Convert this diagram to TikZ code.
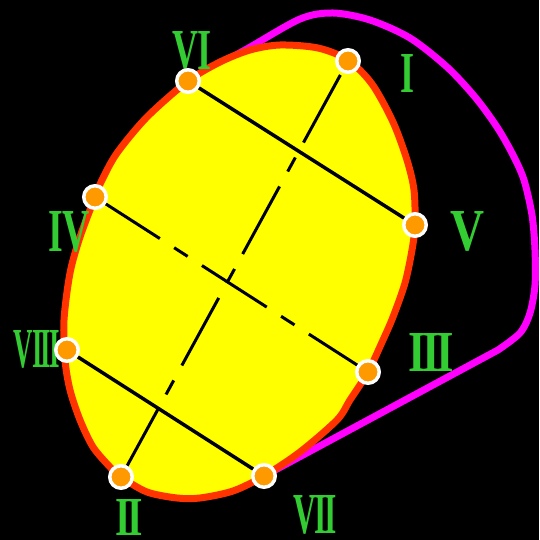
\documentclass[tikz,border=0pt]{standalone}
\usepackage{fontspec}
\setmainfont{Liberation Serif}
\definecolor{blobred}{RGB}{255,51,0}
\definecolor{blobyellow}{RGB}{255,255,0}
\definecolor{dotorange}{RGB}{255,153,0}
\definecolor{labgreen}{RGB}{51,204,51}
\definecolor{curvemag}{RGB}{255,0,255}
\pgfdeclarelayer{background}
\pgfdeclarelayer{mid}
\pgfdeclarelayer{lab}
\pgfsetlayers{background,mid,lab,main}
\tikzset{
  dotnode/.style={circle,inner sep=0pt,minimum size=22.5pt,line width=3.5pt,draw=white,fill=dotorange},
  labnode/.style={inner sep=0pt,text=labgreen},
  solidchord/.style={line width=3.5pt,black},
  dashchord/.style={line width=3pt,black,dash pattern=on 77pt off 17pt on 16pt off 17pt},
  blobline/.style={line width=7pt,draw=blobred,fill=blobyellow},
  magline/.style={line width=7pt,draw=curvemag}
}
\begin{document}
\begin{tikzpicture}[x=1pt,y=-1pt]
\useasboundingbox (0,0) rectangle (539,540);
% points
\node[dotnode] (I) at (348,61) {};
\node[dotnode] (VI) at (188,81) {};
\node[dotnode] (V) at (415,225) {};
\node[dotnode] (IV) at (95,197) {};
\node[dotnode] (VIII) at (67,350) {};
\node[dotnode] (III) at (368,372) {};
\node[dotnode] (II) at (121,477) {};
\node[dotnode] (VII) at (264,476) {};
\begin{pgfonlayer}{background}
\fill[black] (0,0) rectangle (539,540);
\draw[magline,line join=round] plot[smooth,tension=0.5] coordinates {(VI.center) (245,50) (300,19) (333,13) (370,20) (410,38) (447,67) (475,97) (497,127) (513,155) (524,180) (532,215) (535,250) (535,285) (530,313) (520,333) (498,350)} -- (VII.center);
\draw[blobline] plot[smooth cycle,tension=0.5] coordinates {(280,45) (318,48) (348,60) (372,84) (393,122) (407,160) (414,190) (415,225) (412,250) (405,283) (393,317) (383,340) (368,372) (350,400) (337,420) (300,452) (264,476) (233,491) (200,498) (177,498) (147,492) (121,477) (110,467) (93,447) (80,420) (70,390) (65,360) (64,320) (70,273) (80,237) (95,197) (102,180) (117,153) (147,117) (188,81) (220,62) (250,50)};
\end{pgfonlayer}
\begin{pgfonlayer}{mid}
\draw[solidchord] (VI.center) -- (V.center);
\draw[solidchord] (VIII.center) -- (VII.center);
\draw[dashchord] (IV.center) -- (III.center);
\draw[dashchord] (II.center) -- (I.center);
\end{pgfonlayer}
\begin{pgfonlayer}{lab}
\fontsize{58pt}{60pt}\selectfont\bfseries
\node[labnode] (tVI) at (192,51) {\resizebox{40pt}{38pt}{VI}};
\node[labnode] (tI) at (407,74) {\resizebox{14pt}{38pt}{I}};
\node[labnode] (tIV) at (69,232) {\resizebox{42pt}{40pt}{IV}};
\node[labnode] (tVIII) at (37,349) {\resizebox{46pt}{37pt}{V\kern-.04em I\kern-.07em I\kern-.07em I}};
\node[labnode] (tV) at (467,231) {\resizebox{34pt}{39pt}{V}};
\node[labnode] (tIII) at (431,352) {\resizebox{46pt}{38pt}{I\kern-.07em I\kern-.07em I}};
\node[labnode] (tII) at (129,517) {\resizebox{28pt}{36pt}{I\kern-.07em I}};
\node[labnode] (tVII) at (315,515) {\resizebox{44pt}{38pt}{V\kern-.04em I\kern-.07em I}};
\end{pgfonlayer}
\end{tikzpicture}
\end{document}
